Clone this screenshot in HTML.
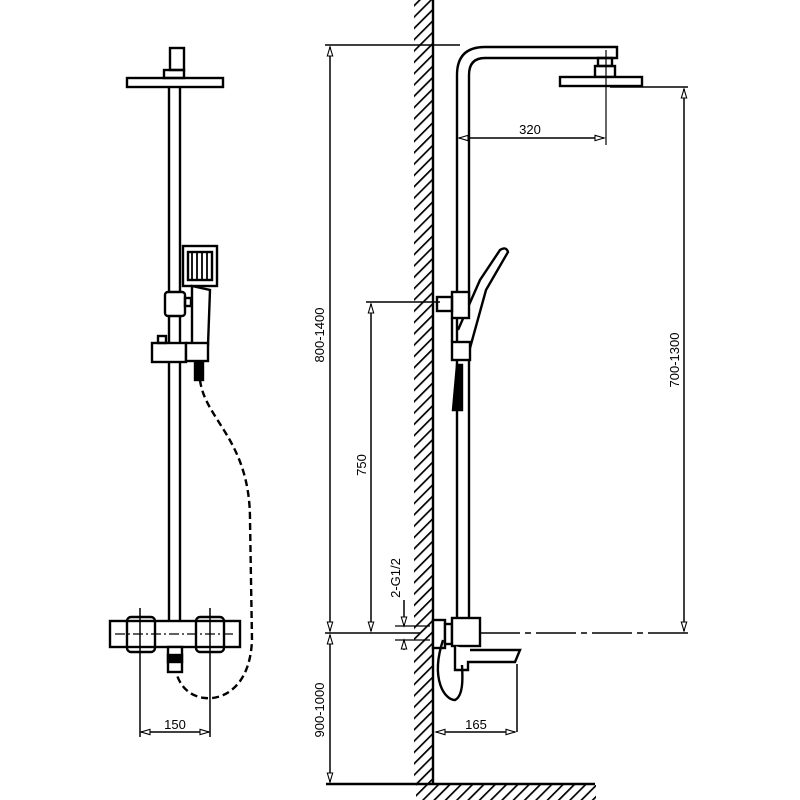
<!DOCTYPE html>
<html><head><meta charset="utf-8"><style>body{margin:0;background:#fff}svg{display:block}</style></head><body>
<svg width="800" height="800" viewBox="0 0 800 800" xmlns="http://www.w3.org/2000/svg" font-family="Liberation Sans Narrow, Liberation Sans, sans-serif">
<defs>
<pattern id="h" width="8" height="8" patternUnits="userSpaceOnUse" patternTransform="rotate(45)"><line x1="0" y1="0" x2="0" y2="8" stroke="#000" stroke-width="3.4"/></pattern>
<marker id="a" viewBox="0 0 10 10" refX="10" refY="5" markerWidth="8" markerHeight="6" orient="auto-start-reverse"><path d="M0,2 L10,5 L0,8 Z" fill="#fff" stroke="#000" stroke-width="1.2"/></marker>
</defs>
<g stroke="#000" fill="none" stroke-width="2.4">
<!-- LEFT VIEW -->
<rect x="127" y="78" width="96" height="9" fill="#fff"/>
<rect x="164" y="70" width="20" height="8"/>
<rect x="170" y="48" width="14" height="22"/>
<line x1="169" y1="87" x2="169" y2="620"/><line x1="180" y1="87" x2="180" y2="620"/>
<rect x="183" y="246" width="34" height="40" fill="#fff"/>
<rect x="188" y="252" width="24" height="28"/>
<g stroke-width="1.8"><line x1="192" y1="252" x2="192" y2="280"/><line x1="197" y1="252" x2="197" y2="280"/><line x1="202" y1="252" x2="202" y2="280"/><line x1="207" y1="252" x2="207" y2="280"/></g>
<path d="M192,286 L192,345 L208,345 L210,290 Z" fill="#fff"/>
<rect x="165" y="292" width="20" height="24" rx="3" fill="#fff"/>
<rect x="185" y="298" width="6" height="8"/>
<rect x="152" y="343" width="34" height="19" fill="#fff"/>
<rect x="186" y="343" width="22" height="18" fill="#fff"/>
<rect x="158" y="336" width="8" height="7"/>
<rect x="195" y="362" width="8" height="18" fill="#000"/>
<path d="M200,380 C205,420 250,440 250,520 L252,640 C250,690 220,700 205,698 C185,696 178,680 176,672" stroke-dasharray="7,4" stroke-width="2.4"/>
<rect x="110" y="621" width="130" height="26" fill="#fff"/>
<rect x="127" y="617" width="28" height="35" rx="4"/>
<rect x="196" y="617" width="28" height="35" rx="4"/>
<rect x="168" y="647" width="14" height="25" fill="#fff"/>
<rect x="168" y="655" width="14" height="7" fill="#000"/>
<line x1="115" y1="634" x2="235" y2="634" stroke-width="1.2" stroke-dasharray="10,3,2,3"/>
<line x1="140" y1="608" x2="140" y2="737" stroke-width="1.5"/>
<line x1="210" y1="608" x2="210" y2="737" stroke-width="1.5"/>
<line x1="141" y1="732" x2="209" y2="732" stroke-width="1.5" marker-start="url(#a)" marker-end="url(#a)"/>
<!-- WALL -->
<rect x="414" y="0" width="19" height="784" fill="url(#h)" stroke="none"/>
<line x1="433" y1="0" x2="433" y2="784"/>
<rect x="416" y="785" width="180" height="15" fill="url(#h)" stroke="none"/>
<line x1="326" y1="784" x2="595" y2="784"/>
<!-- RIGHT VIEW -->
<path d="M457,620 L457,75 Q457,47 485,47 L617,47 L617,58 L485,58 Q469,58 469,75 L469,620"/>
<rect x="598" y="58" width="14" height="8"/><rect x="595" y="66" width="20" height="11"/>
<rect x="560" y="77" width="82" height="9" fill="#fff"/>
<line x1="606" y1="50" x2="606" y2="145" stroke-width="1.2"/>
<line x1="459" y1="138" x2="604" y2="138" stroke-width="1.5" marker-start="url(#a)" marker-end="url(#a)"/>
<path d="M458,330 L480,280 L500,250 Q506,246 508,252 L486,290 L470,348" fill="#fff"/>
<rect x="452" y="292" width="17" height="26" fill="#fff"/>
<rect x="437" y="297" width="15" height="14"/>
<line x1="452" y1="318" x2="452" y2="342"/>
<rect x="452" y="342" width="18" height="18" fill="#fff"/>
<path d="M457,365 L453,410 L462,410 L462,365 Z" fill="#000"/>
<rect x="433" y="620" width="12" height="28" fill="#fff"/>
<rect x="445" y="624" width="7" height="20" fill="#fff"/>
<rect x="452" y="618" width="28" height="28" fill="#fff"/>
<path d="M455,646 L455,670 L468,670 L468,662 L515,662 L520,650 L470,650" fill="#fff"/>
<path d="M443,640 C430,680 445,700 455,700 C465,695 462,670 462,665"/>
<line x1="517" y1="664" x2="517" y2="732" stroke-width="1.5"/>
<line x1="436" y1="732" x2="515" y2="732" stroke-width="1.5" marker-start="url(#a)" marker-end="url(#a)"/>
<!-- DIMENSIONS -->
<line x1="325" y1="45" x2="460" y2="45" stroke-width="1.5"/>
<line x1="325" y1="633" x2="420" y2="633" stroke-width="1.5"/>
<line x1="480" y1="633" x2="688" y2="633" stroke-width="1.5" stroke-dasharray="40,5,6,5"/>
<line x1="610" y1="87" x2="688" y2="87" stroke-width="1.5"/>
<line x1="366" y1="302" x2="440" y2="302" stroke-width="1.5"/>
<line x1="330" y1="47" x2="330" y2="631" stroke-width="1.5" marker-start="url(#a)" marker-end="url(#a)"/>
<line x1="330" y1="635" x2="330" y2="782" stroke-width="1.5" marker-start="url(#a)" marker-end="url(#a)"/>
<line x1="371" y1="304" x2="371" y2="631" stroke-width="1.5" marker-start="url(#a)" marker-end="url(#a)"/>
<line x1="684" y1="89" x2="684" y2="631" stroke-width="1.5" marker-start="url(#a)" marker-end="url(#a)"/>
<line x1="404" y1="600" x2="404" y2="626" stroke-width="1.5" marker-end="url(#a)"/>
<line x1="404" y1="650" x2="404" y2="640" stroke-width="1.5" marker-end="url(#a)"/>
<line x1="395" y1="626" x2="430" y2="626" stroke-width="1.2"/>
<line x1="395" y1="640" x2="430" y2="640" stroke-width="1.2"/>
</g>
<g font-size="13" fill="#000">
<text x="175" y="729" text-anchor="middle">150</text>
<text x="530" y="134" text-anchor="middle">320</text>
<text x="476" y="729" text-anchor="middle">165</text>
<text transform="translate(324,335) rotate(-90)" text-anchor="middle">800-1400</text>
<text transform="translate(366,465) rotate(-90)" text-anchor="middle">750</text>
<text transform="translate(679,360) rotate(-90)" text-anchor="middle">700-1300</text>
<text transform="translate(324,710) rotate(-90)" text-anchor="middle">900-1000</text>
<text transform="translate(400,578) rotate(-90)" text-anchor="middle">2-G1/2</text>
</g>
</svg>
</body></html>
